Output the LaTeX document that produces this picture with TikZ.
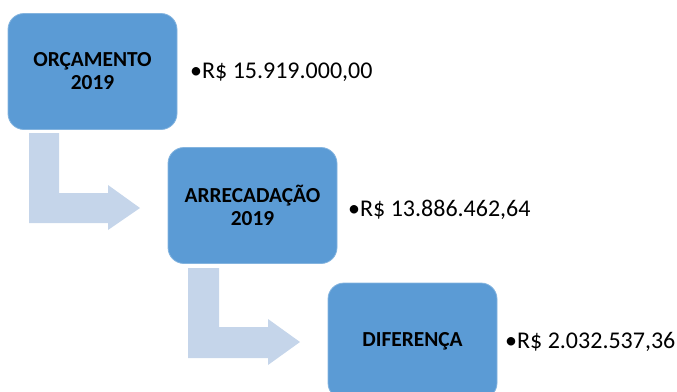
\documentclass[tikz,border=0pt]{standalone}
\usepackage{fontspec}
\setmainfont{Carlito}
\usepackage{tikz}
\usetikzlibrary{positioning}
\definecolor{boxblue}{HTML}{5B9BD5}
\definecolor{arrowblue}{HTML}{C5D5EA}
\tikzset{
  stagebox/.style={rounded corners=16pt, fill=boxblue, draw=boxblue!75!white, line width=0.8pt,
    minimum width=169pt, minimum height=116pt, inner sep=0pt, align=center,
    font=\fontsize{21.4}{23}\selectfont\bfseries},
  valuetext/.style={anchor=base west, inner sep=0pt, font=\fontsize{24}{28}\selectfont},
  bentarrow/.style={fill=arrowblue, draw=none}
}
\begin{document}
\begin{tikzpicture}[x=1pt,y=-1pt]
\useasboundingbox (0,0) rectangle (677,391);
%bent arrows between the stages
\fill[bentarrow] (29,133) -- (59,133) -- (59,193) -- (108,193) -- (108,185) -- (140,208)
  -- (108,230) -- (108,223) -- (29,223) -- cycle;
\fill[bentarrow] (188,268) -- (219,268) -- (219,327) -- (268,327) -- (268,319) -- (300,342)
  -- (268,365) -- (268,358) -- (188,358) -- cycle;
%stages
\node[stagebox] (orcamento) at (92.5,71.5) {ORÇAMENTO\\2019};
\node[stagebox] (arrecadacao) at (252.5,205.5) {ARRECADAÇÃO\\2019};
\begin{scope}
\clip (0,0) rectangle (677,391);
\node[stagebox] (diferenca) at (412.5,341) {DIFERENÇA};
\end{scope}
%values
\node[valuetext] (vorcamento) at (190,78) {•R\$ 15.919.000,00};
\node[valuetext] (varrecadacao) at (348,216) {•R\$ 13.886.462,64};
\node[valuetext] (vdiferenca) at (505,348) {•R\$ 2.032.537,36};
\end{tikzpicture}
\end{document}
